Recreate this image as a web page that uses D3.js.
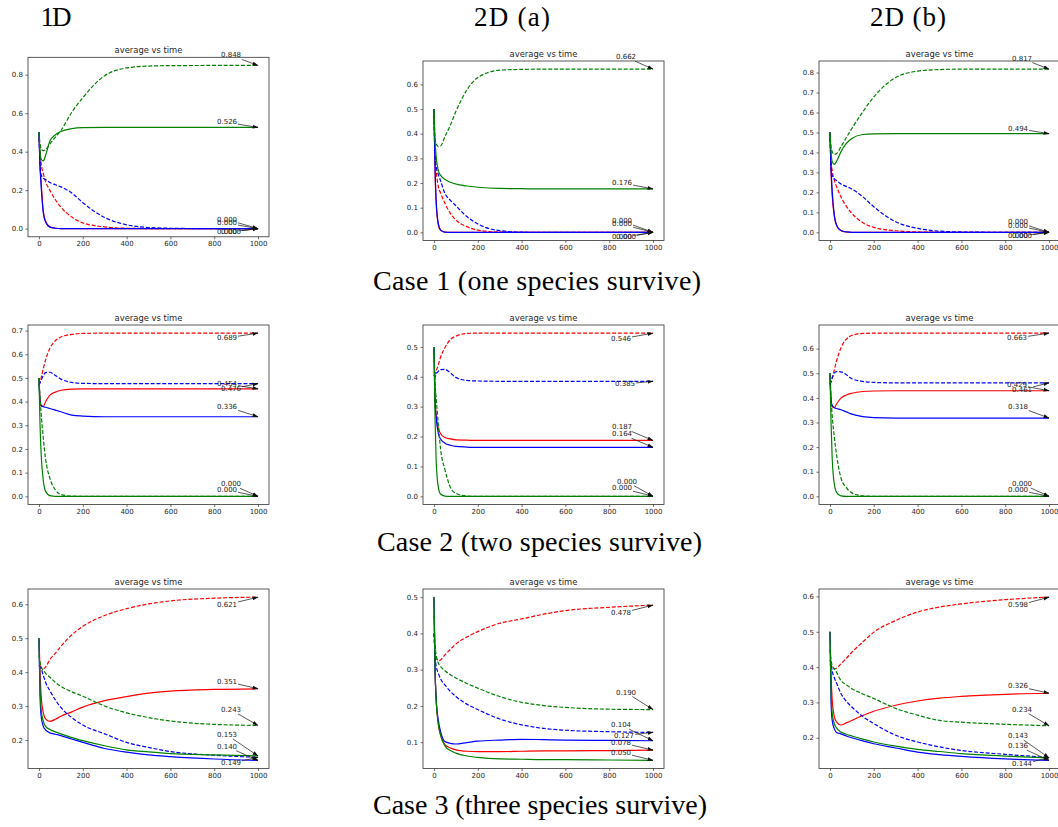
<!DOCTYPE html>
<html>
<head>
<meta charset="utf-8">
<script src="https://cdn.jsdelivr.net/npm/d3@7"></script>
<style>
  body { margin: 0; background: #fff; }
  svg { display: block; }
</style>
</head>
<body>
<svg id="fig" width="1058" height="827"></svg>
<script>
// ---- sample times shared by every run ----
const times = [0, 5, 10, 20, 30, 50, 75, 100, 150, 200, 300, 400, 500, 600, 800, 1000];
const xTicks = [0, 200, 400, 600, 800, 1000];

// ---- Case 1, 1D ----
const c1_1D_rS = [0.5, 0.33, 0.24, 0.09, 0.04, 0.009, 0.002, 0, 0, 0, 0, 0, 0, 0, 0, 0];
const c1_1D_rD = [0.5, 0.40, 0.34, 0.285, 0.245, 0.199, 0.15, 0.112, 0.06, 0.03, 0.009, 0.002, 0.0005, 0, 0, 0];
const c1_1D_bS = [0.5, 0.32, 0.22, 0.08, 0.035, 0.008, 0.002, 0, 0, 0, 0, 0, 0, 0, 0, 0];
const c1_1D_bD = [0.5, 0.33, 0.28, 0.262, 0.255, 0.24, 0.228, 0.217, 0.185, 0.135, 0.058, 0.02, 0.006, 0.002, 0, 0];
const c1_1D_gS = [0.5, 0.40, 0.36, 0.352, 0.38, 0.455, 0.488, 0.505, 0.52, 0.525, 0.526, 0.526, 0.526, 0.526, 0.526, 0.526];
const c1_1D_gD = [0.5, 0.44, 0.415, 0.405, 0.41, 0.44, 0.475, 0.51, 0.605, 0.68, 0.795, 0.835, 0.845, 0.847, 0.848, 0.848];
const c1_1D_yTicks = [0.0, 0.2, 0.4, 0.6, 0.8];

// ---- Case 1, 2D (a) ----
const c1_2Da_rS = [0.5, 0.25, 0.12, 0.03, 0.008, 0.001, 0, 0, 0, 0, 0, 0, 0, 0, 0, 0];
const c1_2Da_rD = [0.5, 0.30, 0.25, 0.185, 0.16, 0.118, 0.077, 0.05, 0.023, 0.009, 0.001, 0, 0, 0, 0, 0];
const c1_2Da_bS = [0.5, 0.26, 0.13, 0.035, 0.01, 0.001, 0, 0, 0, 0, 0, 0, 0, 0, 0, 0];
const c1_2Da_bD = [0.5, 0.31, 0.27, 0.235, 0.21, 0.158, 0.13, 0.108, 0.064, 0.034, 0.007, 0.001, 0, 0, 0, 0];
const c1_2Da_gS = [0.5, 0.37, 0.31, 0.25, 0.232, 0.215, 0.203, 0.196, 0.188, 0.183, 0.178, 0.177, 0.176, 0.176, 0.176, 0.176];
const c1_2Da_gD = [0.5, 0.375, 0.36, 0.348, 0.35, 0.388, 0.435, 0.49, 0.577, 0.628, 0.658, 0.661, 0.662, 0.662, 0.662, 0.662];
const c1_2Da_yTicks = [0.0, 0.1, 0.2, 0.3, 0.4, 0.5, 0.6];

// ---- Case 1, 2D (b) ----
const c1_2Db_rS = [0.5, 0.30, 0.19, 0.08, 0.035, 0.008, 0.002, 0, 0, 0, 0, 0, 0, 0, 0, 0];
const c1_2Db_rD = [0.5, 0.36, 0.31, 0.26, 0.23, 0.178, 0.13, 0.095, 0.048, 0.025, 0.008, 0.002, 0.0005, 0, 0, 0];
const c1_2Db_bS = [0.5, 0.32, 0.21, 0.085, 0.037, 0.009, 0.002, 0, 0, 0, 0, 0, 0, 0, 0, 0];
const c1_2Db_bD = [0.5, 0.33, 0.285, 0.268, 0.26, 0.242, 0.23, 0.217, 0.178, 0.128, 0.053, 0.02, 0.006, 0.002, 0, 0];
const c1_2Db_gS = [0.5, 0.40, 0.355, 0.34, 0.355, 0.403, 0.445, 0.47, 0.49, 0.493, 0.494, 0.494, 0.494, 0.494, 0.494, 0.494];
const c1_2Db_gD = [0.5, 0.43, 0.405, 0.39, 0.395, 0.428, 0.475, 0.52, 0.603, 0.678, 0.775, 0.807, 0.815, 0.817, 0.817, 0.817];
const c1_2Db_yTicks = [0.0, 0.1, 0.2, 0.3, 0.4, 0.5, 0.6, 0.7, 0.8];

// ---- Case 2, 1D ----
const c2_1D_rS = [0.5, 0.41, 0.38, 0.38, 0.398, 0.427, 0.44, 0.448, 0.453, 0.454, 0.454, 0.454, 0.454, 0.454, 0.454, 0.454];
const c2_1D_rD = [0.47, 0.48, 0.5, 0.54, 0.575, 0.625, 0.657, 0.673, 0.684, 0.688, 0.689, 0.689, 0.689, 0.689, 0.689, 0.689];
const c2_1D_bS = [0.5, 0.40, 0.385, 0.378, 0.376, 0.371, 0.364, 0.357, 0.343, 0.339, 0.336, 0.336, 0.336, 0.336, 0.336, 0.336];
const c2_1D_bD = [0.47, 0.48, 0.49, 0.51, 0.522, 0.524, 0.51, 0.495, 0.481, 0.477, 0.476, 0.476, 0.476, 0.476, 0.476, 0.476];
const c2_1D_gS = [0.5, 0.30, 0.18, 0.065, 0.022, 0.003, 0, 0, 0, 0, 0, 0, 0, 0, 0, 0];
const c2_1D_gD = [0.5, 0.42, 0.35, 0.245, 0.16, 0.076, 0.027, 0.008, 0.001, 0, 0, 0, 0, 0, 0, 0];
const c2_1D_yTicks = [0.0, 0.1, 0.2, 0.3, 0.4, 0.5, 0.6, 0.7];

// ---- Case 2, 2D (a) ----
const c2_2Da_rS = [0.5, 0.33, 0.273, 0.228, 0.21, 0.197, 0.192, 0.189, 0.188, 0.187, 0.187, 0.187, 0.187, 0.187, 0.187, 0.187];
const c2_2Da_rD = [0.404, 0.41, 0.42, 0.44, 0.465, 0.497, 0.525, 0.536, 0.545, 0.546, 0.546, 0.546, 0.546, 0.546, 0.546, 0.546];
const c2_2Da_bS = [0.5, 0.32, 0.265, 0.211, 0.192, 0.178, 0.171, 0.167, 0.165, 0.164, 0.164, 0.164, 0.164, 0.164, 0.164, 0.164];
const c2_2Da_bD = [0.407, 0.40, 0.41, 0.418, 0.424, 0.425, 0.413, 0.398, 0.388, 0.386, 0.385, 0.385, 0.385, 0.385, 0.385, 0.385];
const c2_2Da_gS = [0.5, 0.26, 0.12, 0.03, 0.008, 0.001, 0, 0, 0, 0, 0, 0, 0, 0, 0, 0];
const c2_2Da_gD = [0.5, 0.38, 0.33, 0.24, 0.16, 0.09, 0.03, 0.01, 0.001, 0, 0, 0, 0, 0, 0, 0];
const c2_2Da_yTicks = [0.0, 0.1, 0.2, 0.3, 0.4, 0.5];

// ---- Case 2, 2D (b) ----
const c2_2Db_rS = [0.5, 0.39, 0.365, 0.36, 0.375, 0.399, 0.412, 0.419, 0.426, 0.428, 0.429, 0.429, 0.429, 0.429, 0.429, 0.429];
const c2_2Db_rD = [0.455, 0.465, 0.48, 0.514, 0.55, 0.603, 0.639, 0.654, 0.662, 0.663, 0.663, 0.663, 0.663, 0.663, 0.663, 0.663];
const c2_2Db_bS = [0.5, 0.39, 0.37, 0.36, 0.357, 0.352, 0.343, 0.334, 0.324, 0.32, 0.318, 0.318, 0.318, 0.318, 0.318, 0.318];
const c2_2Db_bD = [0.455, 0.465, 0.48, 0.5, 0.507, 0.506, 0.494, 0.478, 0.467, 0.463, 0.461, 0.461, 0.461, 0.461, 0.461, 0.461];
const c2_2Db_gS = [0.5, 0.30, 0.16, 0.05, 0.016, 0.002, 0, 0, 0, 0, 0, 0, 0, 0, 0, 0];
const c2_2Db_gD = [0.5, 0.40, 0.33, 0.24, 0.17, 0.075, 0.035, 0.014, 0.002, 0, 0, 0, 0, 0, 0, 0];
const c2_2Db_yTicks = [0.0, 0.1, 0.2, 0.3, 0.4, 0.5, 0.6];

// ---- Case 3, 1D ----
const c3_1D_rS = [0.5, 0.40, 0.33, 0.28, 0.262, 0.255, 0.261, 0.27, 0.283, 0.297, 0.316, 0.328, 0.338, 0.344, 0.349, 0.351];
const c3_1D_rD = [0.42, 0.418, 0.415, 0.41, 0.415, 0.437, 0.456, 0.476, 0.51, 0.535, 0.567, 0.587, 0.601, 0.61, 0.618, 0.621];
const c3_1D_bS = [0.5, 0.33, 0.27, 0.24, 0.23, 0.221, 0.217, 0.213, 0.203, 0.193, 0.175, 0.164, 0.156, 0.151, 0.144, 0.140];
const c3_1D_bD = [0.42, 0.415, 0.41, 0.39, 0.37, 0.345, 0.318, 0.296, 0.266, 0.244, 0.218, 0.193, 0.178, 0.166, 0.155, 0.149];
const c3_1D_gS = [0.5, 0.35, 0.29, 0.255, 0.24, 0.231, 0.224, 0.218, 0.207, 0.198, 0.183, 0.171, 0.165, 0.16, 0.156, 0.153];
const c3_1D_gD = [0.45, 0.43, 0.415, 0.405, 0.397, 0.385, 0.37, 0.358, 0.342, 0.329, 0.3, 0.28, 0.266, 0.256, 0.246, 0.243];
const c3_1D_yTicks = [0.2, 0.3, 0.4, 0.5, 0.6];

// ---- Case 3, 2D (a) ----
const c3_2Da_rS = [0.5, 0.3, 0.22, 0.15, 0.12, 0.093, 0.084, 0.079, 0.075, 0.074, 0.074, 0.075, 0.076, 0.076, 0.077, 0.078];
const c3_2Da_rD = [0.4, 0.35, 0.335, 0.325, 0.327, 0.341, 0.356, 0.371, 0.39, 0.405, 0.428, 0.44, 0.453, 0.463, 0.472, 0.478];
const c3_2Da_bS = [0.5, 0.3, 0.22, 0.16, 0.13, 0.102, 0.097, 0.095, 0.099, 0.103, 0.106, 0.108, 0.107, 0.106, 0.105, 0.104];
const c3_2Da_bD = [0.4, 0.34, 0.31, 0.29, 0.275, 0.258, 0.24, 0.226, 0.205, 0.19, 0.164, 0.148, 0.138, 0.133, 0.129, 0.127];
const c3_2Da_gS = [0.5, 0.3, 0.22, 0.15, 0.12, 0.09, 0.077, 0.07, 0.062, 0.058, 0.054, 0.053, 0.052, 0.052, 0.051, 0.050];
const c3_2Da_gD = [0.45, 0.37, 0.34, 0.318, 0.309, 0.297, 0.286, 0.277, 0.262, 0.249, 0.226, 0.21, 0.201, 0.196, 0.191, 0.190];
const c3_2Da_yTicks = [0.1, 0.2, 0.3, 0.4, 0.5];

// ---- Case 3, 2D (b) ----
const c3_2Db_rS = [0.5, 0.38, 0.31, 0.26, 0.245, 0.236, 0.242, 0.249, 0.263, 0.275, 0.292, 0.304, 0.312, 0.317, 0.323, 0.326];
const c3_2Db_rD = [0.41, 0.405, 0.4, 0.395, 0.397, 0.409, 0.425, 0.442, 0.471, 0.499, 0.532, 0.556, 0.57, 0.579, 0.591, 0.598];
const c3_2Db_bS = [0.5, 0.3, 0.25, 0.225, 0.215, 0.211, 0.205, 0.2, 0.191, 0.183, 0.171, 0.159, 0.152, 0.147, 0.14, 0.136];
const c3_2Db_bD = [0.42, 0.41, 0.39, 0.37, 0.355, 0.325, 0.303, 0.287, 0.26, 0.24, 0.207, 0.188, 0.174, 0.164, 0.153, 0.144];
const c3_2Db_gS = [0.5, 0.33, 0.27, 0.24, 0.228, 0.216, 0.21, 0.205, 0.196, 0.188, 0.176, 0.167, 0.161, 0.155, 0.148, 0.143];
const c3_2Db_gD = [0.45, 0.42, 0.405, 0.395, 0.385, 0.362, 0.35, 0.339, 0.324, 0.311, 0.283, 0.264, 0.249, 0.244, 0.238, 0.234];
const c3_2Db_yTicks = [0.2, 0.3, 0.4, 0.5, 0.6];

// ---- text ----
const columnHeads = ["1D", "2D (a)", "2D (b)"];
const caseCaptions = ["Case 1 (one species survive)", "Case 2 (two species survive)", "Case 3 (three species survive)"];
const panelTitle = "average vs time";

// ---- value-label placement (text centre offset from the end point, px),
//      in series order rS, rD, bS, bD, gS, gD ----
const seriesKeys = ["rS", "rD", "bS", "bD", "gS", "gD"];
const labelOffsets = [
  [[-31, 3.5], [-31, -9], [-27, 3.5], [-31, -5.5], [-31, -5], [-27, -10]],
  [[-31, 5], [-31, -11.3], [-27, 5], [-31, -8], [-31, -6], [-27, -12]],
  [[-31, 3.7], [-31, -10], [-27, 3.7], [-31, -6.6], [-31, -5], [-27, -10.6]],
  [[-31, -5], [-31, 4.7], [-31, -10], [-27, 5.3], [-31, -6.3], [-27, -12]],
  [[-31, -13], [-32, 5.7], [-31, -13], [-28, 2.7], [-31, -8], [-26, -14.6]],
  [[-32, -6], [-32, 4.8], [-31, -11.5], [-27, 6.7], [-31, -6.3], [-27, -12.3]],
  [[-31, -7.2], [-31, 7.4], [-31, -13.6], [-27, 6], [-31, -21], [-27, -15.5]],
  [[-32, -7.6], [-32, 8], [-32, -15.5], [-29, 3.1], [-32, -7.8], [-27, -17]],
  [[-31, -7], [-31, 8.3], [-31, -14.2], [-27, 6.9], [-31, -21.8], [-27, -16]]
];

// ---- line styles ----
const seriesStyle = {
  rS: { color: "#ff0000", dash: null },
  rD: { color: "#ff0000", dash: "4,1.8" },
  bS: { color: "#0000ff", dash: null },
  bD: { color: "#0000ff", dash: "4,1.8" },
  gS: { color: "#008000", dash: null },
  gD: { color: "#008000", dash: "4,1.8" }
};

// ---- panel grid ----
const panels = [
  { row: 0, col: 0, s: [c1_1D_rS, c1_1D_rD, c1_1D_bS, c1_1D_bD, c1_1D_gS, c1_1D_gD], yTicks: c1_1D_yTicks },
  { row: 0, col: 1, s: [c1_2Da_rS, c1_2Da_rD, c1_2Da_bS, c1_2Da_bD, c1_2Da_gS, c1_2Da_gD], yTicks: c1_2Da_yTicks },
  { row: 0, col: 2, s: [c1_2Db_rS, c1_2Db_rD, c1_2Db_bS, c1_2Db_bD, c1_2Db_gS, c1_2Db_gD], yTicks: c1_2Db_yTicks },
  { row: 1, col: 0, s: [c2_1D_rS, c2_1D_rD, c2_1D_bS, c2_1D_bD, c2_1D_gS, c2_1D_gD], yTicks: c2_1D_yTicks },
  { row: 1, col: 1, s: [c2_2Da_rS, c2_2Da_rD, c2_2Da_bS, c2_2Da_bD, c2_2Da_gS, c2_2Da_gD], yTicks: c2_2Da_yTicks },
  { row: 1, col: 2, s: [c2_2Db_rS, c2_2Db_rD, c2_2Db_bS, c2_2Db_bD, c2_2Db_gS, c2_2Db_gD], yTicks: c2_2Db_yTicks },
  { row: 2, col: 0, s: [c3_1D_rS, c3_1D_rD, c3_1D_bS, c3_1D_bD, c3_1D_gS, c3_1D_gD], yTicks: c3_1D_yTicks },
  { row: 2, col: 1, s: [c3_2Da_rS, c3_2Da_rD, c3_2Da_bS, c3_2Da_bD, c3_2Da_gS, c3_2Da_gD], yTicks: c3_2Da_yTicks },
  { row: 2, col: 2, s: [c3_2Db_rS, c3_2Db_rD, c3_2Db_bS, c3_2Db_bD, c3_2Db_gS, c3_2Db_gD], yTicks: c3_2Db_yTicks }
];

const colLeft = [28, 423, 819];
const rowTop = [[57.3, 61, 61], [325, 325, 325], [589, 589, 589]];
const axW = 241, axH = 179.5;
const headX = [56, 512, 908], headW = [31, 76, 76], headBase = 26;
const capX = [537, 539.5, 540], capW = [328, 325, 334], capBase = [290, 551, 814];

const svg = d3.select("#fig");
const tickFont = "'DejaVu Sans', sans-serif";
const axisColor = "#333";

svg.append("defs").append("marker")
  .attr("id", "arrowHead")
  .attr("markerUnits", "userSpaceOnUse")
  .attr("markerWidth", 6).attr("markerHeight", 6)
  .attr("viewBox", "0 0 5 4")
  .attr("refX", 4.6).attr("refY", 2)
  .attr("orient", "auto")
  .append("path").attr("d", "M0,0.4 L5,2 L0,3.6 Z").attr("fill", "#111");

// column headers and case captions
const serif = "'Liberation Serif', 'Times New Roman', serif";
columnHeads.forEach((t, i) => {
  svg.append("text").attr("x", headX[i]).attr("y", headBase)
    .attr("text-anchor", "middle").attr("font-family", serif).attr("font-size", 27)
    .attr("textLength", headW[i]).attr("lengthAdjust", "spacing")
    .attr("fill", "#000").text(t);
});
caseCaptions.forEach((t, i) => {
  svg.append("text").attr("x", capX[i]).attr("y", capBase[i])
    .attr("text-anchor", "middle").attr("font-family", serif).attr("font-size", 28)
    .attr("textLength", capW[i]).attr("lengthAdjust", "spacing")
    .attr("fill", "#000").text(t);
});

panels.forEach((p, pi) => {
  const left = colLeft[p.col], top = rowTop[p.row][p.col];
  const g = svg.append("g").attr("transform", `translate(${left},${top})`);

  const x = d3.scaleLinear().domain([-50, 1050]).range([0, axW]);
  const all = p.s.flat();
  const lo = d3.min(all), hi = d3.max(all), pad = (hi - lo) * 0.05;
  const y = d3.scaleLinear().domain([lo - pad, hi + pad]).range([axH, 0]);

  // series curves
  const line = d3.line().x(d => x(d[0])).y(d => y(d[1])).curve(d3.curveMonotoneX);
  p.s.forEach((vals, k) => {
    const st = seriesStyle[seriesKeys[k]];
    g.append("path")
      .attr("d", line(times.map((t, j) => [t, vals[j]])))
      .attr("fill", "none").attr("stroke", st.color).attr("stroke-width", 1.2)
      .attr("stroke-dasharray", st.dash)
      .attr("stroke-linejoin", "round");
  });

  // axes
  const xa = g.append("g").attr("transform", `translate(0,${axH})`)
    .call(d3.axisBottom(x).tickValues(xTicks).tickFormat(d3.format("d")).tickSize(2.5).tickPadding(2));
  const ya = g.append("g")
    .call(d3.axisLeft(y).tickValues(p.yTicks).tickFormat(d3.format(".1f")).tickSize(2.5).tickPadding(2.5));
  [xa, ya].forEach(a => {
    a.select(".domain").remove();
    a.selectAll("line").attr("stroke", axisColor).attr("stroke-width", 0.7);
    a.selectAll("text").attr("fill", "#262626").attr("font-family", tickFont).attr("font-size", 7);
  });

  // frame
  g.append("rect").attr("width", axW).attr("height", axH)
    .attr("fill", "none").attr("stroke", axisColor).attr("stroke-width", 0.8);

  // title
  g.append("text").attr("x", axW / 2).attr("y", -4).attr("text-anchor", "middle")
    .attr("font-family", tickFont).attr("font-size", 8.4).attr("fill", "#262626").text(panelTitle);

  // final-value annotations
  p.s.forEach((vals, k) => {
    const v = vals[vals.length - 1];
    const px = x(times[times.length - 1]), py = y(v);
    const [dx, dy] = labelOffsets[pi][k];
    const cx = px + dx, cy = py + dy;
    const txt = g.append("text").attr("x", cx).attr("y", cy)
      .attr("text-anchor", "middle").attr("dominant-baseline", "central")
      .attr("font-family", tickFont).attr("font-size", 7).attr("fill", "#222")
      .text(v.toFixed(3));
    const hw = txt.node().getComputedTextLength() / 2 + 1, hh = 4;
    const vx = px - cx, vy = py - cy;
    const tEdge = Math.min(vx !== 0 ? hw / Math.abs(vx) : Infinity, vy !== 0 ? hh / Math.abs(vy) : Infinity);
    const sx = cx + vx * tEdge, sy = cy + vy * tEdge;
    g.append("line").attr("x1", sx).attr("y1", sy).attr("x2", px).attr("y2", py)
      .attr("stroke", "#111").attr("stroke-width", 0.7)
      .attr("marker-end", "url(#arrowHead)");
  });
});
</script>
</body>
</html>
